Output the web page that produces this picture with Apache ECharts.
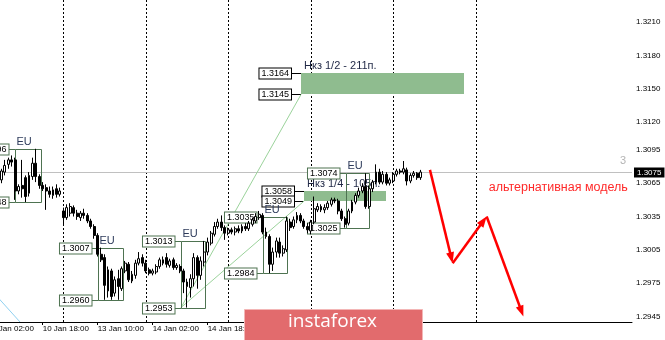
<!DOCTYPE html>
<html><head><meta charset="utf-8">
<script src="https://cdn.jsdelivr.net/npm/echarts@6/dist/echarts.min.js"></script>
<style>html,body{margin:0;padding:0;background:#fff}#c{width:665px;height:340px}</style>
</head><body><div id="c"></div>
<script>
// ---- time axis (hourly bars, weekend skipped) ----
const dayStarts = [['10 Jan',2],['13 Jan',0],['14 Jan',0],['15 Jan',0],['16 Jan',0],['17 Jan',0],['20 Jan',0],['21 Jan',0]];
const categories = [];
dayStarts.forEach(function(d){ for (let h = d[1]; h < 24; h++) categories.push(d[0] + ' ' + String(h).padStart(2,'0') + ':00'); });
categories.length = 188;
const tickLabels = ['10 Jan 02:00','10 Jan 18:00','13 Jan 10:00','14 Jan 02:00','14 Jan 18:00','15 Jan 10:00','16 Jan 02:00','16 Jan 18:00'];
const daySeparators = [22,46,70,94,118,142];

// ---- H1 candles, first bar at category index 4 ----
const firstBar = 4;
const opens = [
1.3068,1.3075,1.3082,1.3086,1.3086,1.3058,1.3063,1.3070,1.3056,1.3071,
1.3083,1.3071,1.3063,1.3061,1.3058,1.3054,1.3060,1.3055,1.3040,1.3034,
1.3038,1.3043,1.3038,1.3034,1.3038,1.3036,1.3031,1.3026,1.3018,1.3001,
1.2998,1.2968,1.2986,1.2966,1.2979,1.2970,1.2986,1.2992,1.2977,1.2982,
1.2993,1.2998,1.2993,1.2987,1.2984,1.2985,1.2990,1.2996,1.2998,1.2991,
1.2996,1.2989,1.2990,1.2986,1.2976,1.2971,1.2979,1.2998,1.2982,1.2994,
1.3003,1.3011,1.3019,1.3026,1.3030,1.3025,1.3020,1.3023,1.3021,1.3024,
1.3022,1.3026,1.3024,1.3028,1.3031,1.3034,1.3036,1.3021,1.3017,1.2992,
1.3003,1.3012,1.3002,1.3005,1.3030,1.3026,1.3032,1.3036,1.3031,1.3026,
1.3022,1.3030,1.3041,1.3044,1.3041,1.3043,1.3046,1.3050,1.3049,1.3040,
1.3033,1.3029,1.3040,1.3048,1.3054,1.3058,1.3062,1.3044,1.3060,1.3066,
1.3075,1.3066,1.3073,1.3065,1.3067,1.3073,1.3076,1.3075,1.3077,1.3067,
1.3072,1.3074,1.3070];
const closes = [
1.3076,1.3081,1.3086,1.3084,1.3058,1.3062,1.3060,1.3053,1.3072,1.3083,
1.3071,1.3063,1.3060,1.3058,1.3055,1.3059,1.3055,1.3058,1.3034,1.3043,
1.3044,1.3038,1.3035,1.3038,1.3036,1.3031,1.3026,1.3018,1.3001,1.2996,
1.2973,1.2987,1.2963,1.2978,1.2972,1.2988,1.2993,1.2978,1.2983,1.2993,
1.2997,1.2993,1.2986,1.2984,1.2986,1.2990,1.2996,1.2993,1.2992,1.2995,
1.2989,1.2991,1.2986,1.2976,1.2972,1.2979,1.2998,1.2982,1.2995,1.3003,
1.3012,1.3020,1.3026,1.3030,1.3025,1.3020,1.3023,1.3021,1.3024,1.3022,
1.3026,1.3024,1.3029,1.3032,1.3035,1.3037,1.3021,1.3017,1.2992,1.3003,
1.3013,1.3002,1.3006,1.3031,1.3025,1.3032,1.3036,1.3031,1.3026,1.3023,
1.3030,1.3042,1.3044,1.3041,1.3043,1.3047,1.3050,1.3049,1.3040,1.3033,
1.3028,1.3040,1.3048,1.3054,1.3058,1.3062,1.3044,1.3060,1.3066,1.3075,
1.3066,1.3073,1.3065,1.3068,1.3073,1.3076,1.3075,1.3078,1.3067,1.3072,
1.3074,1.3070,1.3075];
const lows = [
1.3065,1.3072,1.3078,1.3080,1.3050,1.3055,1.3052,1.3048,1.3053,1.3068,
1.3066,1.3060,1.3058,1.3041,1.3052,1.3051,1.3052,1.3053,1.3028,1.3032,
1.3035,1.3035,1.3032,1.3031,1.3033,1.3029,1.3024,1.3015,1.2999,1.2994,
1.2960,1.2962,1.2960,1.2963,1.2960,1.2968,1.2984,1.2976,1.2975,1.2979,
1.2991,1.2990,1.2984,1.2982,1.2982,1.2983,1.2988,1.2991,1.2989,1.2989,
1.2987,1.2987,1.2984,1.2966,1.2953,1.2962,1.2972,1.2970,1.2978,1.2990,
1.3000,1.3009,1.3017,1.3024,1.3022,1.3014,1.3018,1.3019,1.3018,1.3020,
1.3020,1.3022,1.3022,1.3026,1.3029,1.3032,1.3019,1.3015,1.2984,1.2986,
1.2998,1.2998,1.2999,1.3003,1.3022,1.3024,1.3029,1.3029,1.3024,1.3020,
1.3019,1.3028,1.3039,1.3039,1.3038,1.3041,1.3044,1.3047,1.3037,1.3031,
1.3025,1.3027,1.3038,1.3046,1.3052,1.3056,1.3042,1.3042,1.3057,1.3064,
1.3064,1.3064,1.3063,1.3063,1.3065,1.3071,1.3073,1.3073,1.3063,1.3065,
1.3070,1.3068,1.3068];
const highs = [
1.3078,1.3086,1.3088,1.3090,1.3088,1.3064,1.3086,1.3072,1.3075,1.3088,
1.3096,1.3073,1.3066,1.3064,1.3062,1.3062,1.3064,1.3061,1.3043,1.3046,
1.3047,1.3045,1.3041,1.3040,1.3042,1.3038,1.3033,1.3028,1.3020,1.3007,
1.3001,1.2990,1.2988,1.2981,1.2987,1.2990,1.2995,1.2994,1.2986,1.2996,
1.3003,1.3001,1.2996,1.2989,1.2988,1.2992,1.2998,1.2999,1.3002,1.2997,
1.2998,1.2993,1.2992,1.2988,1.2979,1.2983,1.3002,1.3000,1.2999,1.3013,
1.3016,1.3022,1.3030,1.3033,1.3036,1.3027,1.3025,1.3025,1.3026,1.3027,
1.3028,1.3029,1.3031,1.3034,1.3038,1.3040,1.3038,1.3025,1.3019,1.3007,
1.3016,1.3016,1.3009,1.3035,1.3033,1.3035,1.3039,1.3038,1.3033,1.3029,
1.3032,1.3053,1.3047,1.3046,1.3046,1.3049,1.3052,1.3052,1.3051,1.3042,
1.3035,1.3042,1.3050,1.3056,1.3061,1.3065,1.3074,1.3063,1.3068,1.3082,
1.3078,1.3076,1.3075,1.3070,1.3075,1.3078,1.3078,1.3085,1.3079,1.3074,
1.3076,1.3075,1.3077];

// ---- price axis ----
const yTicks = [1.2945,1.2975,1.3005,1.3035,1.3065,1.3095,1.3120,1.3150,1.3180,1.3210];
const lastPrice = 1.3075;

// ---- annotations (time as bar index, price) ----
const euBoxes = [ // [start, end, high, low]
  [7.9, 15.5, 1.3096, 1.3048],
  [32.2, 39.3, 1.3007, 1.2960],
  [56.25, 63.2, 1.3013, 1.2953],
  [80.2, 87.2, 1.3035, 1.2984],
  [104.2, 111.1, 1.3074, 1.3025]
];
const zones = [ // [start, end, top, bottom, name]
  [91.2, 138.7, 1.3164, 1.3145, 'Нкз 1/2 - 211п.'],
  [92.1, 115.8, 1.3058, 1.3049, 'Нкз 1/4 - 105п.']
];
const fanLines = [
  [[56.25, 1.2953], [91.2, 1.3145]],
  [[56.25, 1.2953], [92.1, 1.3049]]
];
const blueLine = [[-0.5, 1.2974], [9.4, 1.2940]];
const altPath = [[128.7, 1.3077], [135.3, 1.2993], [145.2, 1.3035], [155.9, 1.2945]];
const altLabel = 'альтернативная модель';
const altLabelAt = [186.3, 1.3061];
const cornerMark = '3';
const cornerMarkAt = [184.9, 1.3085];

const FONT = '"Liberation Sans", Arial, sans-serif';
const boxColor = '#4e7351';
const chart = echarts.init(document.getElementById('c'));
const candleData = opens.map(function(o, i){ return [firstBar + i, o, closes[i], lows[i], highs[i]]; });
const snap = function(v){ return Math.round(v) + 0.5; };
const lastBar = firstBar + opens.length - 1;
const showTick = function(i, v){ return tickLabels.indexOf(v) >= 0 && i <= lastBar; };

function priceTag(text, xRight, y, border){
  return {type:'text', x:xRight, y:y, z2:5, style:{text:text, align:'right', verticalAlign:'middle',
    font:'9px ' + FONT, fill:'#000', backgroundColor:'#fff', borderColor:border, borderWidth:1,
    padding:[1,2,0,2], lineHeight:9}};
}

const option = {
  animation:false,
  backgroundColor:'#ffffff',
  grid:{left:-14, right:33, top:0, bottom:18, outerBoundsMode:'none', containLabel:false},
  xAxis:[
    {type:'category', data:categories, boundaryGap:true, z:0,
     axisLine:{show:true, lineStyle:{color:'#000', width:1}},
     axisTick:{show:true, alignWithLabel:true, length:3, lineStyle:{color:'#000'}, interval:showTick},
     axisLabel:{interval:showTick, align:'left', fontSize:8, fontFamily:FONT, color:'#000', margin:3},
     splitLine:{show:false}},
    {type:'value', min:-0.5, max:187.5, show:false}
  ],
  yAxis:{type:'value', position:'right', min:1.2940, max:1.3230,
    axisLine:{show:true, lineStyle:{color:'#000', width:1}},
    axisTick:{show:true, length:3, customValues:yTicks, lineStyle:{color:'#000'}},
    axisLabel:{customValues:yTicks, hideOverlap:false, showMinLabel:true, showMaxLabel:true,
      formatter:function(v){ return v.toFixed(4); },
      fontSize:8, fontFamily:FONT, color:'#000', margin:4},
    splitLine:{show:false}},
  series:[
    { // day separators
      type:'custom', xAxisIndex:1, yAxisIndex:0, silent:true, z:1,
      data:daySeparators.map(function(d){ return [d, 1.30]; }),
      renderItem:function(params, api){
        const x = snap(api.coord([daySeparators[params.dataIndex], 1.30])[0]);
        const cs = params.coordSys;
        return {type:'line', shape:{x1:x, y1:cs.y, x2:x, y2:cs.y + cs.height},
          style:{stroke:'#000', lineWidth:1, lineDash:[2,2]}};
      }
    },
    { // bid line with price tag on the axis
      type:'custom', xAxisIndex:1, yAxisIndex:0, silent:true, z:1, clip:false,
      data:[[0, lastPrice]],
      renderItem:function(params, api){
        const cs = params.coordSys;
        const y = snap(api.coord([0, lastPrice])[1]);
        return {type:'group', children:[
          {type:'line', shape:{x1:cs.x, y1:y, x2:cs.x + cs.width, y2:y}, style:{stroke:'#c0c0c0', lineWidth:1}},
          {type:'text', x:cs.x + cs.width + 2, y:y, z2:10, style:{text:lastPrice.toFixed(4), align:'left', verticalAlign:'middle',
            font:'8px ' + FONT, fill:'#fff', backgroundColor:'#000', padding:[1,3,0,3], lineHeight:9}}
        ]};
      }
    },
    { // zones
      type:'custom', xAxisIndex:1, yAxisIndex:0, silent:true, z:2,
      data:zones.map(function(z){ return [z[0], z[2]]; }),
      renderItem:function(params, api){
        const z = zones[params.dataIndex];
        const a = api.coord([z[0], z[2]]), b = api.coord([z[1], z[3]]);
        const x0 = Math.round(a[0]), x1 = Math.round(b[0]), y0 = Math.round(a[1]), y1 = Math.round(b[1]);
        const lx = x0 - 10;
        return {type:'group', children:[
          {type:'rect', shape:{x:x0, y:y0, width:x1 - x0, height:y1 - y0}, style:{fill:'#8fbc8f'}},
          {type:'line', shape:{x1:lx, y1:y0 + 0.5, x2:x0, y2:y0 + 0.5}, style:{stroke:'#000'}},
          {type:'line', shape:{x1:lx, y1:y1 + 0.5, x2:x0, y2:y1 + 0.5}, style:{stroke:'#000'}},
          priceTag(z[2].toFixed(4), lx, y0 + 0.5, '#000'),
          priceTag(z[3].toFixed(4), lx, y1 + 0.5, '#000'),
          {type:'text', x:x0 + 3, y:y0 - 2, style:{text:z[4], verticalAlign:'bottom', font:'11px ' + FONT, fill:'#1f2745'}}
        ]};
      }
    },
    { // fan lines
      type:'custom', xAxisIndex:1, yAxisIndex:0, silent:true, z:2,
      data:fanLines.map(function(l){ return l[0]; }),
      renderItem:function(params, api){
        const l = fanLines[params.dataIndex];
        const a = api.coord(l[0]), b = api.coord(l[1]);
        return {type:'line', shape:{x1:a[0], y1:a[1], x2:b[0], y2:b[1]}, style:{stroke:'#9bd39b', lineWidth:1}};
      }
    },
    { // blue line
      type:'line', xAxisIndex:1, yAxisIndex:0, silent:true, z:2, symbol:'none',
      data:blueLine, lineStyle:{color:'#8fd0f0', width:1}
    },
    { // EU session boxes
      type:'custom', xAxisIndex:1, yAxisIndex:0, silent:true, z:3,
      data:euBoxes.map(function(b){ return [b[0], b[2]]; }),
      renderItem:function(params, api){
        const b = euBoxes[params.dataIndex];
        const a = api.coord([b[0], b[2]]), c = api.coord([b[1], b[3]]);
        const x0 = snap(a[0]), x1 = snap(c[0]), y0 = snap(a[1]), y1 = snap(c[1]);
        const lx = x0 - 7;
        return {type:'group', children:[
          {type:'rect', shape:{x:x0, y:y0, width:x1 - x0, height:y1 - y0}, style:{fill:'transparent', stroke:boxColor, lineWidth:1}},
          {type:'line', shape:{x1:lx, y1:y0, x2:x0, y2:y0}, style:{stroke:boxColor}},
          {type:'line', shape:{x1:lx, y1:y1, x2:x0, y2:y1}, style:{stroke:boxColor}},
          priceTag(b[2].toFixed(4), lx, y0, boxColor),
          priceTag(b[3].toFixed(4), lx, y1, boxColor),
          {type:'text', x:x0 + 1, y:y0 - 2, style:{text:'EU', verticalAlign:'bottom', font:'11px ' + FONT, fill:'#2c3a5a'}}
        ]};
      }
    },
    { // candles
      type:'candlestick', xAxisIndex:0, yAxisIndex:0, z:4, barWidth:2.4,
      data:candleData, encode:{x:0, y:[1,2,3,4]},
      itemStyle:{color:'#ffffff', color0:'#000000', borderColor:'#000', borderColor0:'#000', borderWidth:1}
    },
    { // alternative model arrows and labels
      type:'custom', xAxisIndex:1, yAxisIndex:0, silent:true, z:6,
      data:altPath.slice(1).map(function(p){ return p; }),
      renderItem:function(params, api){
        const i = params.dataIndex;
        const p0 = api.coord(altPath[i]), p1 = api.coord(altPath[i + 1]);
        const dx = p1[0] - p0[0], dy = p1[1] - p0[1], len = Math.sqrt(dx*dx + dy*dy);
        const ux = dx / len, uy = dy / len, hl = 11, hw = 4;
        const bx = p1[0] - ux * hl, by = p1[1] - uy * hl;
        const children = [
          {type:'line', shape:{x1:p0[0], y1:p0[1], x2:bx + ux*2, y2:by + uy*2}, style:{stroke:'#ff0000', lineWidth:2.5}},
          {type:'polygon', shape:{points:[[p1[0], p1[1]], [bx - uy*hw, by + ux*hw], [bx + uy*hw, by - ux*hw]]}, style:{fill:'#ff0000'}}
        ];
        if (i === 0) {
          const t = api.coord(altLabelAt), m = api.coord(cornerMarkAt);
          children.push({type:'text', x:t[0], y:t[1], style:{text:altLabel, align:'right', verticalAlign:'middle', font:'12.5px ' + FONT, fill:'#ff2a2a'}});
          children.push({type:'text', x:m[0], y:m[1], style:{text:cornerMark, align:'center', verticalAlign:'middle', font:'11px ' + FONT, fill:'#b4b4b4'}});
        }
        return {type:'group', children:children};
      }
    }
  ],
  graphic:{elements:[
    {type:'rect', left:244, top:309, z:1000, zlevel:5, shape:{width:178, height:32}, style:{fill:'#e26b6d', stroke:'#f3b6b6', lineWidth:1}},
    {type:'text', left:288, top:312, z:1001, zlevel:5, style:{text:'instaforex', font:'19px "Open Sans", sans-serif', fill:'#ffffff'}}
  ]}
};
chart.setOption(option);
</script>
</body></html>
